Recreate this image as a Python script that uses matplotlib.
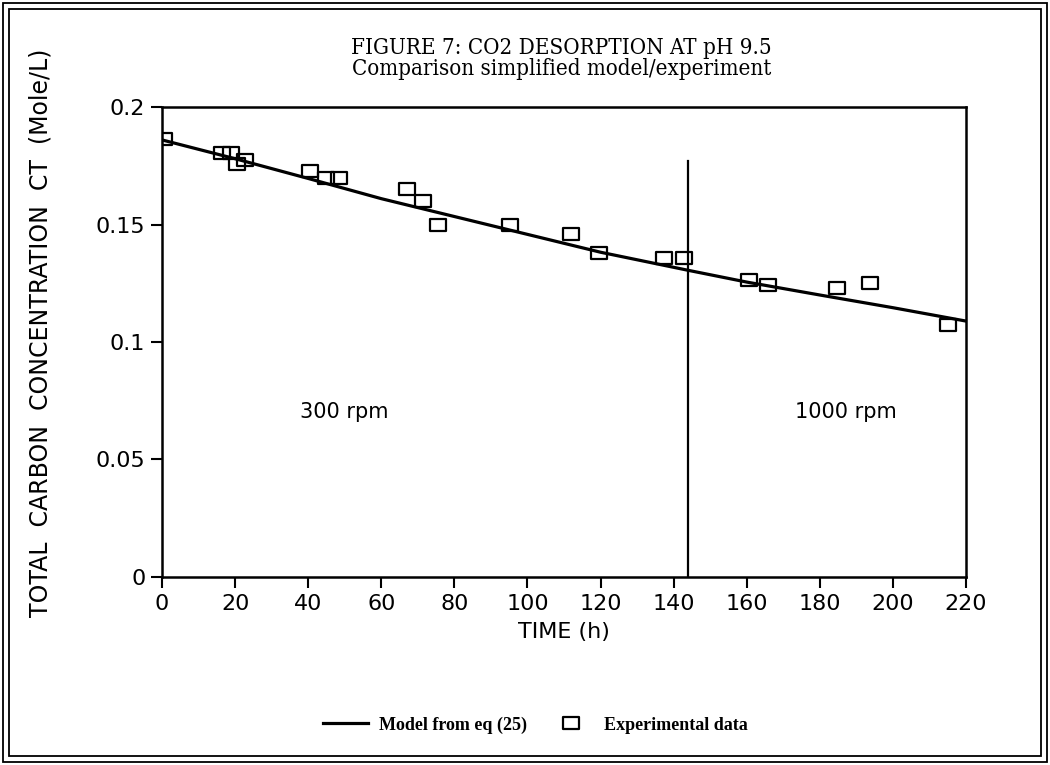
"""CO2 desorption at pH 9.5: simplified model vs experiment."""

import matplotlib

matplotlib.use("Agg")
import matplotlib.pyplot as plt
from matplotlib.patches import Rectangle
from matplotlib.path import Path

# experimental points
exp_time = [0.5, 16.3, 19.0, 20.5, 22.8, 40.6, 44.8, 48.5, 67.0, 71.4, 75.6,
            95.3, 111.8, 119.5, 137.3, 142.8, 160.5, 165.9, 184.8, 193.8, 215.0]
exp_ct = [0.1862, 0.1803, 0.1803, 0.1758, 0.1774, 0.1728, 0.1700, 0.1700,
          0.1649, 0.1602, 0.1500, 0.1500, 0.1461, 0.1379, 0.1359, 0.1359,
          0.1262, 0.1241, 0.1231, 0.1252, 0.1073]

# model curve, eq (25)
model_time = [0, 20, 40, 60, 80, 100, 120, 144, 160, 180, 200, 220]
model_ct = [0.186, 0.178, 0.1696, 0.161, 0.1534, 0.1458, 0.1382, 0.1305,
            0.1255, 0.120, 0.1146, 0.1089]

x_ticks = [0, 20, 40, 60, 80, 100, 120, 140, 160, 180, 200, 220]
y_ticks = [0, 0.05, 0.1, 0.15, 0.2]
y_tick_labels = ["0", "0.05", "0.1", "0.15", "0.2"]

switch_time = 144
switch_top = 0.177

# wide open box marker, like the plotter symbol
box = Path([(-1.25, -1), (1.25, -1), (1.25, 1), (-1.25, 1), (-1.25, -1)],
           [Path.MOVETO, Path.LINETO, Path.LINETO, Path.LINETO, Path.CLOSEPOLY])

fig = plt.figure(figsize=(10.5, 7.65), dpi=100)
ax = fig.add_axes([0.1543, 0.2458, 0.7657, 0.6143])

ax.plot(model_time, model_ct, color="black", linewidth=2.3,
        label="Model from eq (25)")
ax.plot(exp_time, exp_ct, linestyle="none", marker=box, markersize=11,
        markerfacecolor="none", markeredgecolor="black", markeredgewidth=1.6,
        label="Experimental data")
ax.plot([switch_time, switch_time], [0, switch_top], color="black",
        linewidth=1.6)

ax.text(50, 0.07, "300 rpm", fontsize=15, ha="center", va="center",
        family="DejaVu Sans")
ax.text(187, 0.07, "1000 rpm", fontsize=15, ha="center", va="center",
        family="DejaVu Sans")

ax.set_xlim(0, 220)
ax.set_ylim(0, 0.2)
ax.set_xticks(x_ticks)
ax.set_yticks(y_ticks)
ax.set_yticklabels(y_tick_labels)
ax.tick_params(direction="out", length=8, width=1.5, labelsize=16, pad=4)
for spine in ax.spines.values():
    spine.set_linewidth(1.8)

ax.set_xlabel("TIME (h)", fontsize=16, labelpad=6)
ax.set_ylabel("TOTAL  CARBON  CONCENTRATION  CT  (Mole/L)", fontsize=17)
ax.yaxis.set_label_coords(-0.136, 0.52)

title_font = {"family": "DejaVu Serif", "stretch": "condensed", "size": 16}
fig.text(0.535, 0.937, "FIGURE 7: CO2 DESORPTION AT pH 9.5",
         fontdict=title_font, ha="center", va="center")
fig.text(0.535, 0.910, "Comparison simplified model/experiment",
         fontdict=title_font, ha="center", va="center")

fig.legend(loc="center", bbox_to_anchor=(0.51, 0.052), ncol=2, frameon=False,
           prop={"family": "Liberation Serif", "weight": "bold", "size": 13},
           handlelength=2.5, columnspacing=1.2, handletextpad=0.6)

# double frame around the figure
for inset in (3, 9):
    fig.patches.append(Rectangle((inset / 1050, inset / 765),
                                 1 - 2 * inset / 1050, 1 - 2 * inset / 765,
                                 transform=fig.transFigure, fill=False,
                                 edgecolor="black", linewidth=1.3))

fig.savefig("out.png", dpi=100)
